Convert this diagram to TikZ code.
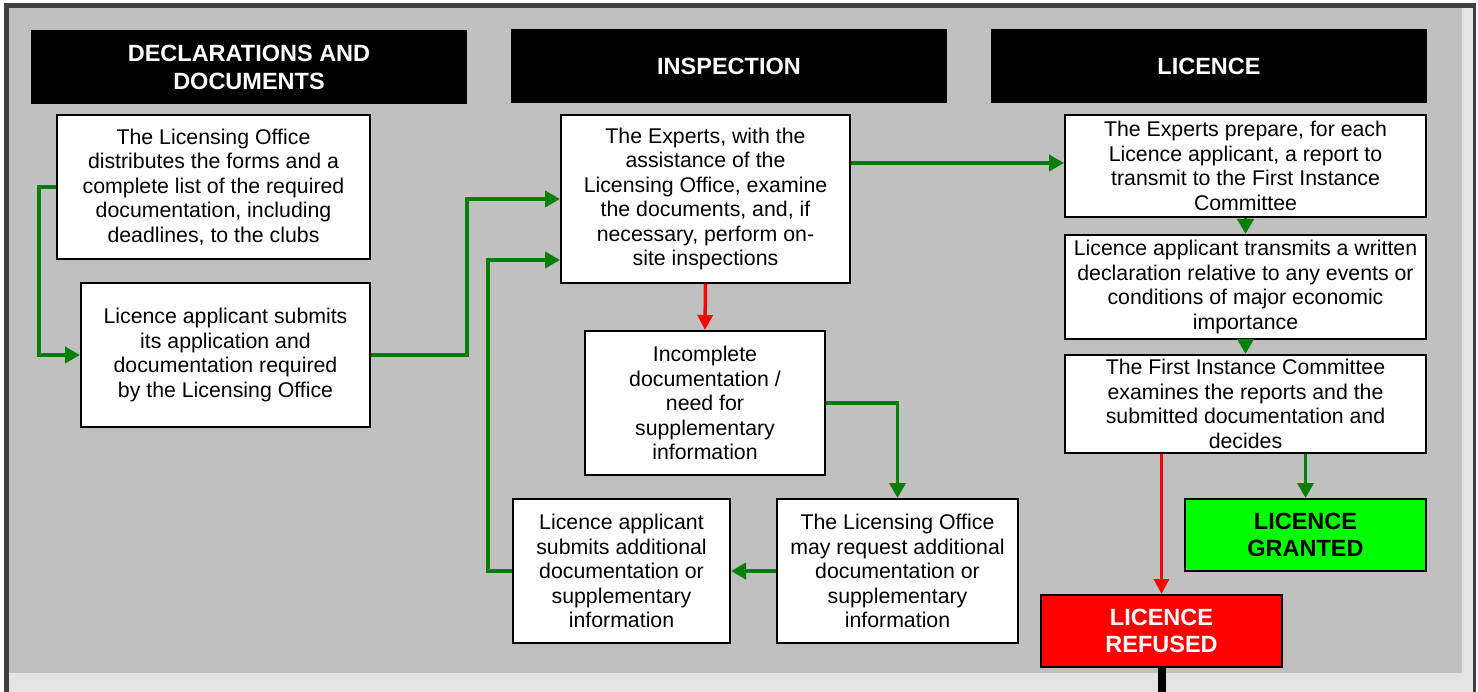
\documentclass[tikz,border=0pt]{standalone}
\usepackage{fontspec}
\setmainfont{Liberation Sans}
\usetikzlibrary{arrows.meta,calc}
\definecolor{panel}{HTML}{C0C0C0}
\definecolor{strip}{HTML}{E4E4E4}
\definecolor{frame}{HTML}{404040}
\definecolor{fgreen}{HTML}{008000}
\definecolor{fred}{HTML}{FF0000}
\definecolor{lime}{HTML}{00FF00}
\tikzset{
  box/.style={draw=black, line width=2pt, fill=white, align=center, inner sep=0pt,
    font=\fontsize{21.3}{24.5}\selectfont},
  header/.style={fill=black, text=white, align=center, inner sep=0pt,
    minimum width=436pt, minimum height=74pt,
    font=\fontsize{23.5}{28}\selectfont\bfseries},
  result/.style={draw=black, line width=2pt, align=center, inner sep=0pt,
    minimum width=241pt, minimum height=72pt,
    font=\fontsize{23.5}{27}\selectfont\bfseries},
  garrow/.style={draw=fgreen, line width=3.8pt,
    -{Triangle[length=15pt,width=16pt]}, fgreen},
  rarrow/.style={draw=fred, line width=3.5pt,
    -{Triangle[length=15pt,width=15pt]}, fred},
}
\begin{document}
\begin{tikzpicture}[x=1pt,y=-1pt]
\useasboundingbox (0,0) rectangle (1478,692);
\fill[white] (0,0) rectangle (1478,692);
\fill[frame] (4,3) rectangle (1476,700);
\fill[strip] (9,8) rectangle (1473,700);
\fill[panel] (9,8) rectangle (1462,673);

% headers
\node[header] (h1) at (249,67) {DECLARATIONS AND\\DOCUMENTS};
\node[header] (h2) at (729,66) {INSPECTION};
\node[header] (h3) at (1209,66) {LICENCE};

% boxes
\node[box, minimum width=313pt, minimum height=144pt] (A) at (213.5,187)
  {The Licensing Office\\distributes the forms and a\\complete list of the required\\documentation, including\\deadlines, to the clubs};
\node[box, minimum width=289pt, minimum height=144pt] (B) at (225.5,355)
  {Licence applicant submits\\its application and\\documentation required\\by the Licensing Office};
\node[box, minimum width=289pt, minimum height=168pt] (C) at (705.5,199)
  {The Experts, with the\\assistance of the\\Licensing Office, examine\\the documents, and, if\\necessary, perform on-\\site inspections};
\node[box, minimum width=240pt, minimum height=144pt] (D) at (705,403)
  {Incomplete\\documentation /\\need for\\supplementary\\information};
\node[box, minimum width=217pt, minimum height=144pt] (E) at (621.5,571)
  {Licence applicant\\submits additional\\documentation or\\supplementary\\information};
\node[box, minimum width=241pt, minimum height=144pt] (F) at (897.5,571)
  {The Licensing Office\\may request additional\\documentation or\\supplementary\\information};
\node[box, minimum width=361pt, minimum height=102pt] (G) at (1245.5,166)
  {The Experts prepare, for each\\Licence applicant, a report to\\transmit to the First Instance\\Committee};
\node[box, minimum width=361pt, minimum height=104pt] (H) at (1245.5,287)
  {Licence applicant transmits a written\\declaration relative to any events or\\conditions of major economic\\importance};
\node[box, minimum width=361pt, minimum height=98pt] (I) at (1245.5,404)
  {The First Instance Committee\\examines the reports and the\\submitted documentation and\\decides};
\node[result, fill=lime, text=black] (GR) at (1305.5,535) {LICENCE\\GRANTED};
\node[result, fill=fred, text=white] (RF) at (1161.5,631) {LICENCE\\REFUSED};
\coordinate (down) at (1161.5,700);

% connectors
\draw[garrow] (A.west) -- ++(-17,0) |- (B.west);
\draw[garrow] (B.east) -- ++(96,0) |- (C.west);
\draw[garrow] (E.west) -- ++(-24,0) |- ($(C.west)+(0,61)$);
\draw[rarrow] (C.south) -- (D.north);
\draw[garrow] (D.east) -| (F.north);
\draw[garrow] (F.west) -- (E.east);
\draw[garrow] (C.east |- 0,163) -- (G.west |- 0,163);
\draw[garrow] (G.south) -- (H.north);
\draw[garrow] (H.south) -- (I.north);
\draw[rarrow] (I.south -| RF.north) -- (RF.north);
\draw[garrow] (I.south -| GR.north) -- (GR.north);
\draw[black, line width=8pt] (RF.south) -- (down);
\end{tikzpicture}
\end{document}
